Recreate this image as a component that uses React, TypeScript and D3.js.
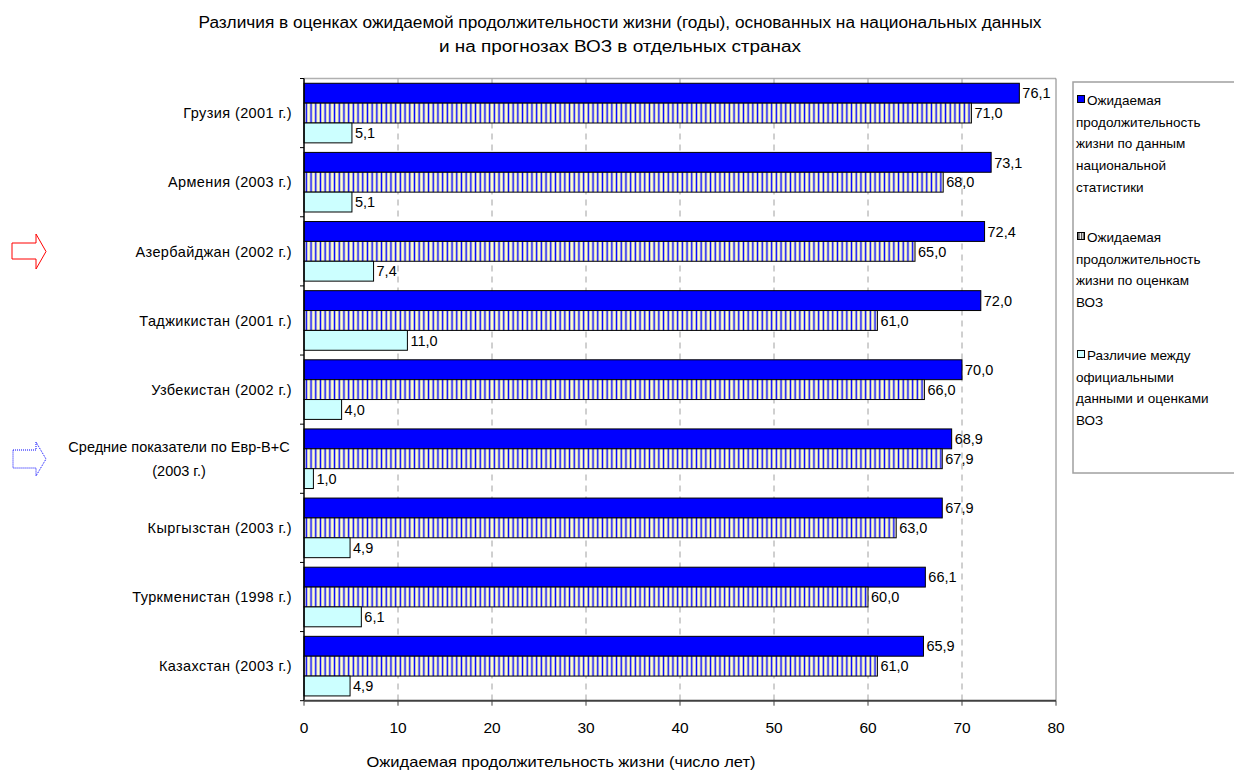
import React from "react";
import * as d3 from "d3";

// Countries (with the reference year of national data)
const categories: string[][] = [
  ["Грузия (2001 г.)"],
  ["Армения (2003 г.)"],
  ["Азербайджан (2002 г.)"],
  ["Таджикистан (2001 г.)"],
  ["Узбекистан (2002 г.)"],
  ["Средние показатели по Евр-В+С", "(2003 г.)"],
  ["Кыргызстан (2003 г.)"],
  ["Туркменистан (1998 г.)"],
  ["Казахстан (2003 г.)"],
];

// Life expectancy according to national statistics
const nationalValues = [76.1, 73.1, 72.4, 72.0, 70.0, 68.9, 67.9, 66.1, 65.9];
// Life expectancy according to WHO estimates
const whoValues = [71.0, 68.0, 65.0, 61.0, 66.0, 67.9, 63.0, 60.0, 61.0];
// Difference between official data and WHO estimates
const diffValues = [5.1, 5.1, 7.4, 11.0, 4.0, 1.0, 4.9, 6.1, 4.9];

const xTicks = [0, 10, 20, 30, 40, 50, 60, 70, 80];

const seriesKeys = ["national", "who", "diff"];

const legendItems: string[][] = [
  ["Ожидаемая", "продолжительность", "жизни по данным", "национальной", "статистики"],
  ["Ожидаемая", "продолжительность", "жизни по оценкам", "ВОЗ"],
  ["Различие между", "официальными", "данными и оценками", "ВОЗ"],
];

const titleLines = [
  "Различия в оценках ожидаемой продолжительности жизни (годы), основанных на национальных данных",
  "и на прогнозах ВОЗ в отдельных странах",
];

const axisTitle = "Ожидаемая продолжительность жизни (число лет)";

const FONT = "'Liberation Sans', Arial, sans-serif";

const fmt = (v: number) => v.toFixed(1).replace(".", ",");

export default function App() {
  const W = 1234;
  const H = 772;
  const left = 304;
  const right = 1056;
  const top = 78.5;
  const bottom = 700.7;

  const x = d3.scaleLinear().domain([0, 80]).range([left, right]);
  const keys = categories.map((_, i) => String(i));
  const y = d3.scaleBand<string>().domain(keys).range([top, bottom]).paddingInner(0).paddingOuter(0);
  const inner = d3
    .scaleBand<string>()
    .domain(seriesKeys)
    .range([0, y.bandwidth()])
    .paddingInner(0)
    .paddingOuter(0.24);

  const series = [
    { key: "national", values: nationalValues, fill: "#0000ff" },
    { key: "who", values: whoValues, fill: "url(#vstripes)" },
    { key: "diff", values: diffValues, fill: "#ccffff" },
  ];

  const legendY = [100, 237, 355];
  const lineGap = 21.7;

  return (
    <div style={{ position: "absolute", left: 0, top: 0 }}>
      <svg width={W} height={H} style={{ display: "block", fontFamily: FONT }}>
        <defs>
          <pattern id="vstripes" patternUnits="userSpaceOnUse" width={4.7} height={10} x={left}>
            <rect width={4.7} height={10} fill="#ffffcc" />
            <rect x={1.6} width={1.5} height={10} fill="#0000ff" />
          </pattern>
          <pattern id="legstripes" patternUnits="userSpaceOnUse" width={2.5} height={10}>
            <rect width={2.5} height={10} fill="#ffffff" />
            <rect x={1} width={1} height={10} fill="#000" />
          </pattern>
        </defs>
        <rect width={W} height={H} fill="#fff" />

        {/* title */}
        <text x={620} y={28} textAnchor="middle" fontSize={16} fill="#000"
          textLength={843} lengthAdjust="spacingAndGlyphs">
          {titleLines[0]}
        </text>
        <text x={620} y={52} textAnchor="middle" fontSize={16} fill="#000"
          textLength={362} lengthAdjust="spacingAndGlyphs">
          {titleLines[1]}
        </text>

        {/* plot frame: top and right */}
        <line x1={left} x2={right} y1={top} y2={top} stroke="#b0b0b0" strokeWidth={1.5} />
        <line x1={right} x2={right} y1={top} y2={bottom} stroke="#808080" strokeWidth={1} />

        {/* dashed gridlines */}
        {xTicks
          .filter((t) => t > 0 && t < 80)
          .map((t) => (
            <line
              key={t}
              x1={x(t)}
              x2={x(t)}
              y1={top}
              y2={bottom}
              stroke="#a0a0a0"
              strokeWidth={1}
              strokeDasharray="6,5"
            />
          ))}

        {/* bars */}
        {series.map((s) =>
          s.values.map((v, i) => {
            const by = (y(String(i)) as number) + (inner(s.key) as number);
            const bh = inner.bandwidth();
            return (
              <g key={s.key + i}>
                <rect
                  x={x(0)}
                  y={by}
                  width={x(v) - x(0)}
                  height={bh}
                  fill={s.fill}
                  stroke="#000"
                  strokeWidth={1}
                />
                <text
                  x={x(v) + 3}
                  y={by + bh / 2}
                  dy="0.36em"
                  fontSize={14.5}
                  fill="#000"
                >
                  {fmt(v)}
                </text>
              </g>
            );
          })
        )}

        {/* left axis */}
        <line x1={left} x2={left} y1={top} y2={bottom} stroke="#000" strokeWidth={1.5} />
        {d3.range(categories.length + 1).map((i) => {
          const yy = top + i * y.step();
          return <line key={i} x1={left - 4} x2={left} y1={yy} y2={yy} stroke="#000" strokeWidth={1} />;
        })}
        {categories.map((lines, i) => {
          const cy = (y(String(i)) as number) + y.bandwidth() / 2;
          if (lines.length === 1) {
            return (
              <text key={i} x={292} y={cy} dy="0.36em" textAnchor="end" fontSize={14.5}
                letterSpacing={0.4} fill="#000">
                {lines[0]}
              </text>
            );
          }
          return (
            <text key={i} x={179} y={cy - 12} textAnchor="middle" fontSize={14.5} fill="#000">
              {lines.map((l, j) => (
                <tspan key={j} x={179} dy={j === 0 ? "0.36em" : 24}>
                  {l}
                </tspan>
              ))}
            </text>
          );
        })}

        {/* bottom axis */}
        <line x1={left} x2={right} y1={bottom} y2={bottom} stroke="#404040" strokeWidth={2} />
        {xTicks.map((t) => (
          <g key={t}>
            <line x1={x(t)} x2={x(t)} y1={bottom} y2={bottom + 5} stroke="#404040" strokeWidth={1} />
            <text x={x(t)} y={733} textAnchor="middle" fontSize={15.5} fill="#000">
              {t}
            </text>
          </g>
        ))}
        <text x={561} y={767} textAnchor="middle" fontSize={15} fill="#000"
          textLength={389} lengthAdjust="spacingAndGlyphs">
          {axisTitle}
        </text>

        {/* legend */}
        <rect x={1073} y={82} width={200} height={391} fill="#fff" stroke="#a0a0a0" strokeWidth={1.5} />
        {legendItems.map((lines, i) => {
          const ly = legendY[i];
          const fill = i === 0 ? "#0000ff" : i === 1 ? "url(#legstripes)" : "#ccffff";
          return (
            <g key={i}>
              <rect x={1077.5} y={ly - 4.5} width={7} height={7} fill={fill} stroke="#000" strokeWidth={1} />
              {lines.map((l, j) => (
                <text
                  key={j}
                  x={j === 0 ? 1087 : 1076}
                  y={ly + j * lineGap}
                  dy="0.36em"
                  fontSize={13.5}
                  fill="#000"
                >
                  {l}
                </text>
              ))}
            </g>
          );
        })}

        {/* pointer arrows */}
        <path
          d="M12,243 L36,243 L36,234 L46,251.5 L36,269 L36,259 L12,259 Z"
          fill="#fff"
          stroke="#ff0000"
          strokeWidth={1}
        />
        <path
          d="M13,450 L36,450 L36,442 L46,459 L36,476 L36,468 L13,468 Z"
          fill="#fff"
          stroke="#0000ff"
          strokeWidth={1}
          strokeDasharray="1,1"
        />
      </svg>
    </div>
  );
}
